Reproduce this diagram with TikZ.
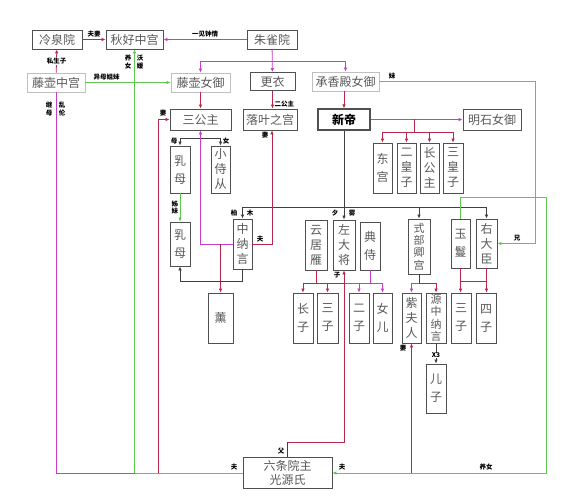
\documentclass[tikz,border=0pt]{standalone}
\usepackage{fontspec}
\setmainfont{Noto Sans CJK SC}
\usetikzlibrary{arrows.meta}
\definecolor{cred}{HTML}{B8284A}
\definecolor{cmag}{HTML}{C83CC8}
\definecolor{cgrn}{HTML}{5CC84C}
\definecolor{cbox}{HTML}{505050}
\tikzset{
  box/.style={draw=cbox, line width=0.9pt, fill=white, inner sep=0pt, text=black!65,
    font=\fontsize{12}{14}\selectfont, align=center},
  lbox/.style={box, draw=black!25},
  vb/.style={box, font=\fontsize{12}{15}\selectfont},
  vbt/.style={box, font=\fontsize{12}{18}\selectfont},
  vbf/.style={box, font=\fontsize{11}{12.3}\selectfont},
  lab/.style={font=\fontsize{6.5}{7.5}\selectfont\bfseries, inner sep=0.5pt, text=black, align=center},
  rline/.style={draw=cred, line width=0.8pt},
  mline/.style={draw=cmag, line width=0.8pt},
  gline/.style={draw=cgrn, line width=0.8pt},
  kline/.style={draw=black!75, line width=0.8pt},
  arw/.style={-{Latex[length=4pt,width=3.6pt]}}
}
\begin{document}
\begin{tikzpicture}[x=1pt,y=-1pt]
\useasboundingbox (0,0) rectangle (570,500);
\fill[white] (0,0) rectangle (570,500);
% ---- horizontal boxes
\node[box,minimum width=50pt,minimum height=19pt] (lq) at (57,39.5) {冷泉院};
\node[box,minimum width=57pt,minimum height=19pt] (qh) at (134.5,39.5) {秋好中宫};
\node[box,minimum width=50pt,minimum height=19pt] (zq) at (272,39.5) {朱雀院};
\node[lbox,minimum width=58pt,minimum height=19pt] (tzg) at (56,82.5) {藤壶中宫};
\node[lbox,minimum width=59pt,minimum height=19pt] (tzn) at (200.5,82.5) {藤壶女御};
\node[box,minimum width=45pt,minimum height=18pt] (gy) at (272.5,81.5) {更衣};
\node[lbox,minimum width=67pt,minimum height=19pt] (cx) at (345.5,81.5) {承香殿女御};
\node[box,minimum width=61pt,minimum height=21pt] (sgz) at (200.5,119.5) {三公主};
\node[box,minimum width=54pt,minimum height=21pt] (lyz) at (270,119.5) {落叶之宫};
\node[box,line width=1.3pt,minimum width=52pt,minimum height=21pt,text=black,
  font=\fontsize{12}{14}\selectfont\bfseries] (xd) at (344,119.5) {新帝};
\node[box,minimum width=58pt,minimum height=21pt] (ms) at (492,119.5) {明石女御};
% ---- vertical boxes
\node[vbt,minimum width=19pt,minimum height=50pt] (dg) at (382.5,168) {东\\宫};
\node[vb,minimum width=19pt,minimum height=50pt] (ehz) at (406.5,168) {二\\皇\\子};
\node[vb,minimum width=19pt,minimum height=50pt] (cgz) at (429.5,168) {长\\公\\主};
\node[vb,minimum width=20pt,minimum height=50pt] (shz) at (453,168) {三\\皇\\子};
\node[vbt,minimum width=20pt,minimum height=47pt] (rm1) at (180,169.5) {乳\\母};
\node[vb,minimum width=19pt,minimum height=47pt] (xsc) at (220.5,169.5) {小\\侍\\从};
\node[vbt,minimum width=20pt,minimum height=44pt] (rm2) at (180,244) {乳\\母};
\node[vb,minimum width=19pt,minimum height=50pt] (znj) at (242.5,244) {中\\纳\\言};
\node[vb,minimum width=22pt,minimum height=50pt] (yjy) at (316,245) {云\\居\\雁};
\node[vb,minimum width=22pt,minimum height=50pt] (zdj) at (344,245) {左\\大\\将};
\node[vbt,minimum width=20pt,minimum height=48pt] (dsh) at (370,246) {典\\侍};
\node[vbf,minimum width=22pt,minimum height=55pt] (sbq) at (419,246.5) {式\\部\\卿\\宫};
\node[vbt,minimum width=19pt,minimum height=49pt] (yx) at (460.5,243.5) {玉\\鬘};
\node[vb,minimum width=21pt,minimum height=49pt] (ydc) at (486.5,243.5) {右\\大\\臣};
\node[vb,minimum width=25pt,minimum height=50pt] (xun) at (220.5,318) {薰};
\node[vbt,minimum width=20pt,minimum height=50pt] (cz) at (303,318) {长\\子};
\node[vbt,minimum width=21pt,minimum height=50pt] (sz1) at (327.5,318) {三\\子};
\node[vbt,minimum width=20pt,minimum height=50pt] (ez) at (359,318) {二\\子};
\node[vbt,minimum width=19pt,minimum height=50pt] (ne) at (382.5,318) {女\\儿};
\node[vb,minimum width=19pt,minimum height=50pt] (zfr) at (411.5,318) {紫\\夫\\人};
\node[vbf,minimum width=20pt,minimum height=50pt] (yzn) at (436,318) {源\\中\\纳\\言};
\node[vbt,minimum width=20pt,minimum height=50pt] (sz2) at (461,318) {三\\子};
\node[vbt,minimum width=20pt,minimum height=50pt] (sz4) at (486,318) {四\\子};
\node[vbt,minimum width=20pt,minimum height=49pt] (ez2) at (436,388.5) {儿\\子};
\node[box,minimum width=89pt,minimum height=31pt] (lty) at (287.5,473) {六条院主\\光源氏};
% ---- coordinates
\coordinate (zb) at (272,61);
\coordinate (xc) at (414,119.5);
\coordinate (xb) at (414,132);
\coordinate (kb1) at (242.5,207);
\coordinate (kb2) at (486.5,207);
\coordinate (sb1) at (180,138);
\coordinate (sb2) at (220.5,138);
\coordinate (kx) at (220.5,244);
\coordinate (yb) at (316,283);
\coordinate (yb2) at (344,283);
\coordinate (db) at (370,283);
\coordinate (gf) at (287.5,442);
\coordinate (gr) at (344,442);
\coordinate (sbb) at (419,283);
\coordinate (yb3) at (460.5,281);
\coordinate (yb4) at (486.5,281);
\coordinate (zb0) at (411.5,473);
\coordinate (bl1) at (56,473);
\coordinate (bl2) at (134.5,473);
\coordinate (bl3) at (158,473);
\coordinate (gy1) at (460.5,197);
\coordinate (gx1) at (546,197);
\coordinate (gx2) at (546,473);
\coordinate (cg1) at (535,81.5);
\coordinate (cg2) at (535,243.5);
% ---- top connectors
\draw[rline,arw] (lq) -- node[lab,above=1.5pt]{夫妻} (qh);
\draw[mline,arw] (zq) -- node[lab,above=1.5pt]{一见钟情} (qh);
\draw[rline,arw] (tzg) -- node[lab,fill=white]{私生子} (lq);
\draw[gline,arw] (tzg) -- node[lab,above=1.5pt,pos=0.25]{异母姐妹} (tzn);
\draw[mline,arw] (zq) -- (gy);
\draw[mline,arw] (zb) -| (tzn.north);
\draw[mline,arw] (zb) -| (cx.north);
\draw[rline,arw] (tzn) -- (sgz);
\draw[rline,arw] (gy) -- (gy.south |- lyz.north);
\node[lab,anchor=west] at (274,104) {二公主};
\draw[rline,arw] (xd.north |- cx.south) -- (xd.north);
\draw[mline,arw] (xd) -- (ms);
\draw[rline] (xc) -- (xb);
\draw[rline,arw] (xb) -| (dg.north);
\draw[rline,arw] (xb) -| (ehz.north);
\draw[rline,arw] (xb) -| (cgz.north);
\draw[rline,arw] (xb) -| (shz.north);
% ---- black
\draw[kline,arw] (xd) -- (zdj);
\node[lab] at (335,213) {夕};
\node[lab] at (352,213) {雾};
\draw[kline] (kb1) -- (kb2);
\draw[kline,arw] (kb1) -- (znj.north);
\draw[kline,arw] (sbq.north |- kb1) -- (sbq.north);
\draw[kline,arw] (kb2) -- (ydc.north);
\node[lab] at (234,213) {柏};
\node[lab] at (250,213) {木};
\draw[kline] (sb1) -- (sb2);
\draw[kline,arw] (sb1) -- (rm1.north);
\draw[kline,arw] (sb2) -- (xsc.north);
\node[lab] at (174,141) {母};
\node[lab] at (226,141) {女};
\draw[gline,arw] (rm1) -- node[lab,left=1pt]{姊\\妹} (rm2);
% ---- 中纳言
\draw[mline,arw] (znj.west) -| (sgz.south);
\draw[rline,arw] (znj.east) -| ([xshift=2pt]lyz.south);
\node[lab] at (260,239) {夫};
\node[lab] at (265,135) {妻};
\draw[rline,arw] (kx) -- (xun.north);
\draw[kline,arw] (znj.south) -- ++(0,12) -| (rm2.south);
% ---- 左大将 children
\draw[rline] (yjy.south) -- (yb);
\draw[rline,arw] (yb) -| (cz.north);
\draw[rline,arw] (yb) -| (sz1.north);
\draw[rline] (yb) -- (yb2);
\draw[mline] (dsh.south) -- (db);
\draw[mline,arw] (db) -| (ez.north);
\draw[mline,arw] (db) -| (ne.north);
\draw[mline] (db) -- (yb2);
\draw[kline] (lty.north) -- (gf);
\draw[rline,arw] (gf) -- (gr) -- (zdj.south);
\node[lab] at (281,451) {父};
\node[lab] at (337,275) {子};
% ---- 式部卿宫 children
\draw[kline] (sbq.south) -- (sbb);
\draw[mline,arw] (sbb) -| (zfr.north);
\draw[rline,arw] (sbb) -| (yzn.north);
\draw[kline,arw] (yzn) -- node[lab,fill=white,pos=0.6]{X3} (ez2);
% ---- 玉鬘 children
\draw[rline,arw] (yx.south) -- (yx.south |- sz2.north);
\draw[rline,arw] (ydc.south) -- (ydc.south |- sz4.north);
\draw[rline] (yb3) -- (yb4);
% ---- bottom
\draw[rline,arw] (zb0) -- (zfr.south);
\node[lab] at (403,348) {妻};
\draw[mline] (tzg.south) -- (bl1) -- (bl2);
\node[lab] at (49,109) {继\\母};
\node[lab] at (62,109) {乱\\伦};
\draw[gline,arw] (bl2) -- (qh.south);
\node[lab] at (128,62) {养\\女};
\node[lab] at (140,62) {沃\\媛};
\draw[gline] (bl2) -- (lty.west);
\node[lab] at (234,467) {夫};
\draw[rline,arw] (bl3) |- (sgz.west);
\node[lab] at (163,113) {妻};
\draw[gline,arw] (yx.north) -- (gy1) -- (gx1) -- (gx2) -- (lty.east);
\node[lab] at (486,467) {养女};
\node[lab] at (342,467) {夫};
\draw[gline,arw] (cx.east) -- (cg1) -- (cg2) -- (ydc.east);
\node[lab] at (392,76) {妹};
\node[lab] at (517,238) {兄};
\end{tikzpicture}
\end{document}
